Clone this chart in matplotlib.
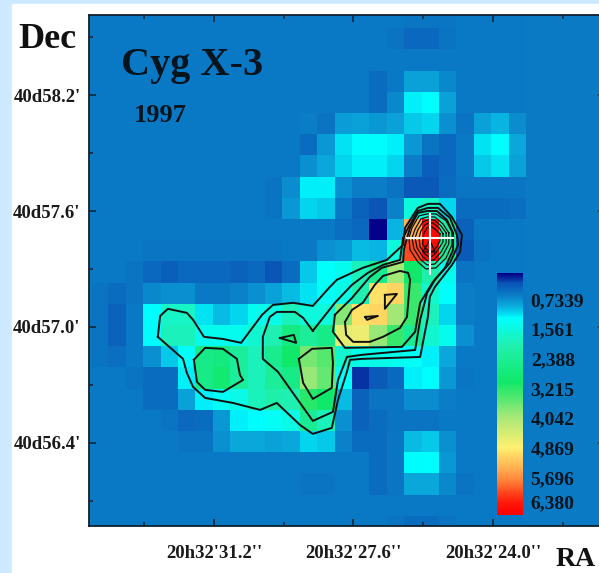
"""Cyg X-3 1997 intensity map with contours."""

from __future__ import annotations

import matplotlib

matplotlib.use("Agg")

import matplotlib.pyplot as plt
import numpy as np
from matplotlib.colors import LinearSegmentedColormap, Normalize
from matplotlib.patches import Rectangle

plt.rcParams["font.family"] = ["Liberation Serif", "DejaVu Serif"]

FIG_W, FIG_H = 599, 573
AX_LEFT, AX_RIGHT, AX_TOP, AX_BOTTOM = 89, 605, 15, 526

# one row per 21.2 px cell from the top, one column per 17.4 px cell from the left
SKY = [
    [.6, .6, .6, .6, .6, .6, .6, .6, .6, .6, .6, .6, .6, .6, .6, .6, .6, .6, .57, .57, .57, .6, .6, .6, .6],
    [.6, .6, .6, .6, .6, .6, .6, .6, .6, .6, .6, .6, .6, .6, .6, .6, .6, .55, .45, .45, .55, .6, .6, .6, .6],
    [.6, .6, .6, .6, .6, .6, .6, .6, .6, .6, .6, .6, .6, .6, .6, .6, .6, .6, .6, .6, .6, .6, .6, .6, .6],
    [.6, .6, .6, .6, .6, .6, .6, .6, .6, .6, .6, .6, .6, .6, .6, .6, .5, .6, .85, .85, .7, .58, .6, .6, .6],
    [.6, .6, .6, .6, .6, .6, .6, .6, .6, .6, .6, .6, .6, .6, .6, .6, .48, .7, 1.2, 1.25, .85, .58, .6, .6, .6],
    [.6, .6, .6, .6, .6, .6, .6, .6, .6, .6, .6, .6, .62, .55, .82, .85, .8, .85, 1.05, 1.1, .75, .55, .85, .95, .72],
    [.6, .6, .6, .6, .6, .6, .6, .6, .6, .6, .6, .6, .5, .8, 1.15, 1.25, 1.25, 1.2, .8, .55, .47, .58, 1.15, 1.25, .9],
    [.6, .6, .6, .6, .6, .6, .6, .6, .6, .6, .6, .6, .75, .9, 1.1, 1.2, 1.2, 1.1, .62, .38, .45, .58, 1.05, 1.15, .85],
    [.6, .6, .6, .6, .6, .6, .6, .6, .6, .6, .55, .72, 1.2, 1.2, .75, .62, .62, .55, .32, .32, .5, .57, .57, .57, .57],
    [.6, .6, .6, .6, .6, .6, .6, .6, .6, .6, .55, .8, 1.1, 1.05, .6, .4, .3, .65, 1.6, 1.8, 1.1, .5, .48, .48, .52],
    [.6, .6, .6, .6, .6, .6, .6, .6, .6, .6, .6, .6, .6, .6, .52, .45, 0., .95, 5.4, 6.6, 2.2, .4, .6, .6, .6],
    [.6, .6, .6, .57, .57, .57, .57, .57, .57, .57, .57, .6, .6, .75, .8, 1., .95, 1.6, 6.1, 6.6, 2.4, .35, .55, .6, .6],
    [.6, .6, .55, .45, .38, .45, .45, .45, .42, .45, .3, .5, 1.05, 1.3, 1.4, 1.9, 2.5, 4., 3., 2.1, 1.4, .55, .6, .6, .6],
    [.55, .5, .55, .7, .75, .75, .6, .6, .65, .75, .85, 1., 1.15, 1.35, 1.5, 2., 5., 5.1, 3.3, 1.7, 1.3, .62, .6, .6, .6],
    [.55, .42, .6, 1.25, 1.8, 1.8, 1.15, 1., 1.1, 1.4, 1.5, 1.9, 1.6, 1.6, 3.8, 5., 5.1, 4., 3.3, 1.9, 1.1, .62, .6, .6, .6],
    [.55, .42, .6, 1.25, 1.9, 1.9, 1.4, 1.4, 1.4, 1.7, 2., 2.7, 2.3, 2.6, 4.6, 4.7, 3.9, 3.3, 2.4, 1.7, 1.4, .75, .6, .6, .6],
    [.55, .52, .6, .75, 1.05, 1.3, 2.6, 2.7, 2.3, 1.9, 2.5, 3., 3.7, 3.5, 1.7, 1.5, 1.45, 1.4, 1.35, 1.2, .9, .6, .6, .6, .6],
    [.6, .6, .55, .5, .5, 1.2, 2.6, 2.9, 2.3, 1.9, 2.3, 2.6, 3.9, 3.6, 1.3, .18, .35, .45, 1.2, 1.25, .8, .57, .6, .6, .6],
    [.6, .6, .6, .5, .5, .85, 1.2, 1.35, 1.5, 1.9, 2.1, 2., 3.2, 3., 1., .42, .55, .55, .72, .72, .62, .6, .6, .6, .6],
    [.6, .6, .6, .6, .55, .45, .5, .8, 1.2, 1.25, 1.35, 1.5, 2.4, 1.9, .75, .4, .5, .55, .55, .55, .6, .6, .6, .6, .6],
    [.6, .6, .6, .6, .6, .55, .55, .75, .9, .9, .85, .9, 1.1, 1.05, .65, .5, .5, .57, 1., 1.05, .75, .6, .6, .6, .6],
    [.6, .6, .6, .6, .6, .6, .6, .6, .6, .6, .6, .6, .6, .6, .6, .6, .5, .57, 1.25, 1.25, .8, .58, .6, .6, .6],
    [.6, .6, .6, .6, .6, .6, .6, .6, .6, .6, .6, .6, .55, .55, .6, .6, .5, .57, .9, .9, .7, .55, .6, .6, .6],
    [.6, .6, .6, .6, .6, .6, .6, .6, .6, .6, .6, .6, .6, .6, .6, .6, .6, .6, .6, .6, .6, .6, .6, .6, .6],
    [.6, .6, .6, .6, .6, .6, .6, .6, .6, .6, .6, .6, .6, .6, .6, .6, .6, .55, .48, .48, .55, .6, .6, .6, .6],
]
BACKGROUND_VALUE = 0.6

# contour lines, as (RA seconds, Dec arcmin)
CONTOUR_OUTER = [
    (32.65, 56.949), (32.59, 57.057), (32.39, 57.094), (31.90, 57.073), (31.74, 57.037),
    (31.46, 56.949), (30.97, 56.938), (30.50, 56.918), (29.96, 57.063), (29.68, 57.114),
    (29.16, 57.125), (28.65, 57.109), (28.21, 57.207), (28.03, 57.244), (27.36, 57.306),
    (26.74, 57.347), (26.32, 57.425), (26.27, 57.513), (25.94, 57.616), (25.68, 57.637),
    (25.37, 57.637), (25.06, 57.569), (24.80, 57.476), (24.85, 57.388), (25.06, 57.321),
    (25.50, 57.207), (25.63, 57.156), (25.68, 57.052), (25.88, 56.845), (27.38, 56.835),
    (27.69, 56.830), (27.77, 56.768), (28.00, 56.623), (28.16, 56.478), (28.65, 56.447),
    (28.98, 56.493), (29.58, 56.607), (30.01, 56.571), (30.71, 56.607), (31.43, 56.633),
    (31.74, 56.690), (31.90, 56.762), (32.00, 56.835), (32.65, 56.949),
]
CONTOUR_SECOND = [
    (28.65, 56.980), (28.90, 57.047), (29.11, 57.078), (29.58, 57.078), (29.76, 57.052),
    (29.94, 56.949), (29.94, 56.835), (29.55, 56.768), (28.98, 56.607), (28.65, 56.514),
    (28.13, 56.561), (28.00, 56.726), (27.77, 56.845), (27.38, 56.856), (26.01, 56.881),
    (25.88, 57.037), (25.70, 57.176), (25.50, 57.244), (25.11, 57.332), (24.90, 57.425),
    (24.93, 57.476), (25.11, 57.564), (25.42, 57.616), (25.68, 57.616), (25.94, 57.600),
    (26.19, 57.513), (26.32, 57.461), (26.40, 57.347), (26.84, 57.321), (27.23, 57.280),
    (27.64, 57.218), (28.08, 57.125), (28.47, 57.026), (28.65, 56.980),
]
CONTOUR_THIRD = [
    (28.08, 57.063), (28.13, 56.975), (27.82, 56.892), (26.35, 56.897), (26.01, 56.975),
    (25.88, 57.125), (25.55, 57.233), (25.24, 57.306), (25.03, 57.399), (25.03, 57.487),
    (25.19, 57.554), (25.45, 57.600), (25.70, 57.600), (25.94, 57.590), (26.14, 57.513),
    (26.22, 57.461), (26.30, 57.399), (26.32, 57.337), (26.87, 57.306), (27.18, 57.259),
    (27.64, 57.150), (28.08, 57.063),
]
CONTOUR_LOBE = [
    (27.82, 57.026), (27.79, 56.959), (27.61, 56.923), (27.18, 56.923), (26.84, 56.949),
    (26.40, 56.995), (26.22, 57.052), (26.14, 57.244), (26.19, 57.280), (26.40, 57.290),
    (26.84, 57.264), (27.05, 57.218), (27.36, 57.125), (27.64, 57.088), (27.82, 57.026),
]
CONTOUR_LOBE_PEAK_A = [(26.79, 57.166), (26.48, 57.171), (26.79, 57.094), (26.79, 57.166)]
CONTOUR_LOBE_PEAK_B = [(27.30, 57.052), (26.97, 57.057), (27.25, 57.037), (27.30, 57.052)]
CONTOUR_MIDDLE_PEAK = [(29.50, 56.943), (29.14, 56.959), (29.08, 56.918), (29.50, 56.943)]
CONTOUR_MIDDLE_BLOB = [
    (29.01, 56.835), (28.67, 56.887), (28.16, 56.892), (28.13, 56.814), (28.16, 56.685),
    (28.65, 56.628), (28.90, 56.711), (29.01, 56.835),
]
CONTOUR_LEFT_BLOB = [
    (31.72, 56.830), (31.43, 56.892), (30.97, 56.887), (30.61, 56.835), (30.53, 56.752),
    (30.45, 56.726), (30.97, 56.664), (31.43, 56.675), (31.64, 56.716), (31.72, 56.830),
]
CONTOUR_RING_1 = [
    (25.06, 57.492), (25.21, 57.549), (25.47, 57.585), (25.70, 57.585), (25.91, 57.575),
    (26.09, 57.513), (26.17, 57.461), (26.14, 57.399), (25.94, 57.337), (25.73, 57.300),
    (25.47, 57.306), (25.21, 57.357), (25.06, 57.425), (25.06, 57.492),
]
CONTOUR_RING_2 = [
    (25.14, 57.487), (25.29, 57.533), (25.50, 57.569), (25.70, 57.569), (25.86, 57.559),
    (26.01, 57.507), (26.09, 57.461), (26.04, 57.404), (25.86, 57.347), (25.70, 57.321),
    (25.50, 57.326), (25.29, 57.373), (25.14, 57.430), (25.14, 57.487),
]
CONTOUR_RING_3 = [
    (25.21, 57.487), (25.34, 57.523), (25.52, 57.554), (25.68, 57.554), (25.81, 57.544),
    (25.94, 57.502), (26.01, 57.461), (25.96, 57.409), (25.81, 57.362), (25.68, 57.342),
    (25.52, 57.347), (25.34, 57.388), (25.21, 57.435), (25.21, 57.487),
]
CONTOUR_RING_4 = [
    (25.29, 57.482), (25.39, 57.513), (25.55, 57.538), (25.65, 57.538), (25.76, 57.528),
    (25.86, 57.497), (25.91, 57.461), (25.88, 57.414), (25.76, 57.378), (25.65, 57.362),
    (25.55, 57.368), (25.42, 57.399), (25.29, 57.440), (25.29, 57.482),
]
CONTOUR_RING_5 = [
    (25.37, 57.482), (25.47, 57.502), (25.58, 57.518), (25.65, 57.518), (25.70, 57.513),
    (25.78, 57.487), (25.81, 57.461), (25.81, 57.425), (25.70, 57.399), (25.63, 57.388),
    (25.55, 57.393), (25.45, 57.414), (25.37, 57.445), (25.37, 57.482),
]
CONTOUR_CORE = [(25.63, 57.450), (25.81, 57.388), (25.50, 57.388), (25.63, 57.450)]
CONTOURS = [
    CONTOUR_OUTER, CONTOUR_SECOND, CONTOUR_THIRD, CONTOUR_LOBE, CONTOUR_LOBE_PEAK_A,
    CONTOUR_LOBE_PEAK_B, CONTOUR_MIDDLE_PEAK, CONTOUR_MIDDLE_BLOB, CONTOUR_LEFT_BLOB,
]
PEAK_RINGS = [
    CONTOUR_RING_1, CONTOUR_RING_2, CONTOUR_RING_3, CONTOUR_RING_4, CONTOUR_RING_5,
    CONTOUR_CORE,
]

RA_MAJOR = [31.2, 27.6, 24.0]
RA_MINOR = [33.0, 29.4, 25.8, 22.2]
RA_LABELS = ["20h32'31.2''", "20h32'27.6''", "20h32'24.0''"]
DEC_MAJOR = [58.2, 57.6, 57.0, 56.4]
DEC_MINOR = [58.5, 57.9, 57.3, 56.7, 56.1]
DEC_LABELS = ["40d58.2'", "40d57.6'", "40d57.0'", "40d56.4'"]

BAR_TICKS = [0.7339, 1.561, 2.388, 3.215, 4.042, 4.869, 5.696, 6.380]
BAR_LABELS = ["0,7339", "1,561", "2,388", "3,215", "4,042", "4,869", "5,696", "6,380"]

CMAP_VALUES = [0.0, 0.25, 0.6, 0.9, 1.25, 2.0, 3.05, 4.0, 4.87, 5.7, 6.4, 6.74]
CMAP_COLORS = [
    "#000088", "#0a50b4", "#0a7cc6", "#0aa8dc", "#00ffff", "#20f0b0",
    "#10e868", "#a5e878", "#fff070", "#ff9040", "#ff1808", "#ff0000",
]

CROSS_RA, CROSS_DEC = 25.63, 57.46


def ra_at(px: float) -> float:
    return 31.2 - (px - 214) / 38.75


def dec_at(py: float) -> float:
    return 57.6 - (py - 211) / 193.3


def figure_box(left: float, right: float, top: float, bottom: float) -> list[float]:
    return [left / FIG_W, 1 - bottom / FIG_H, (right - left) / FIG_W, (bottom - top) / FIG_H]


sky = np.array(SKY)
n_rows, n_cols = sky.shape
vmax = CMAP_VALUES[-1]
cmap = LinearSegmentedColormap.from_list(
    "map", [(v / vmax, c) for v, c in zip(CMAP_VALUES, CMAP_COLORS)]
)
norm = Normalize(0, vmax)

fig = plt.figure(figsize=(FIG_W / 100, FIG_H / 100), dpi=100, facecolor="#cde9ff")
fig.add_artist(
    Rectangle((12 / FIG_W, 0), 1, 1 - 4 / FIG_H, transform=fig.transFigure, color="white", zorder=-1)
)

ax = fig.add_axes(figure_box(AX_LEFT, AX_RIGHT, AX_TOP, AX_BOTTOM))
ax.set_facecolor(cmap(norm(BACKGROUND_VALUE)))

x_left, y_top = 90.8, 7.0
cell_w, cell_h = 17.4, 21.2
extent = (
    ra_at(x_left),
    ra_at(x_left + n_cols * cell_w),
    dec_at(y_top + n_rows * cell_h),
    dec_at(y_top),
)
im = ax.imshow(sky, cmap=cmap, norm=norm, extent=extent, origin="upper", aspect="auto", interpolation="nearest")

for line in CONTOURS:
    ras, decs = zip(*line)
    ax.plot(ras, decs, color="#101010", linewidth=1.4, solid_joinstyle="round")
for line in PEAK_RINGS:
    ras, decs = zip(*line)
    ax.plot(ras, decs, color="#101010", linewidth=0.9, solid_joinstyle="round")

ax.hlines(CROSS_DEC, CROSS_RA + 0.62, CROSS_RA - 0.62, color="white", linewidth=1.5, zorder=3)
ax.vlines(CROSS_RA, CROSS_DEC - 0.19, CROSS_DEC + 0.13, color="white", linewidth=1.5, zorder=3)

ax.set_xlim(ra_at(AX_LEFT), ra_at(AX_RIGHT))
ax.set_ylim(dec_at(AX_BOTTOM), dec_at(AX_TOP))
ax.set_xticks(RA_MAJOR, RA_LABELS, fontsize=13.5, fontweight="bold", color="#1a1a1a")
ax.set_xticks(RA_MINOR, minor=True)
ax.set_yticks(DEC_MAJOR, DEC_LABELS, fontsize=13.5, fontweight="bold", color="#1a1a1a")
ax.set_yticks(DEC_MINOR, minor=True)
ax.tick_params(which="major", direction="in", top=True, right=True, length=5, width=1.1, color="#10202c")
ax.tick_params(which="minor", direction="in", top=True, right=True, length=3, width=1.1, color="#10202c")
ax.tick_params(axis="x", which="major", pad=14)
ax.tick_params(axis="y", which="major", pad=6)
for spine in ax.spines.values():
    spine.set_linewidth(1.3)
    spine.set_color("#10202c")

ax.text(ra_at(121), dec_at(66), "Cyg X-3", fontsize=29, fontweight="bold", color="#06141e", va="center")
ax.text(ra_at(134), dec_at(116), "1997", fontsize=19, fontweight="bold", color="#06141e", va="center")
fig.text(18 / FIG_W, 1 - 39 / FIG_H, "Dec", fontsize=26, fontweight="bold", color="#111111", va="center")
fig.text(556 / FIG_W, 1 - 559 / FIG_H, "RA", fontsize=20, fontweight="bold", color="#111111", va="center")

cax = fig.add_axes(figure_box(497, 523, 273, 515))
bar = fig.colorbar(im, cax=cax)
bar.outline.set_visible(False)
bar.set_ticks(BAR_TICKS, labels=BAR_LABELS)
cax.invert_yaxis()
cax.tick_params(length=0, pad=5.5, labelsize=14, labelcolor="#06141e")
for label in cax.get_yticklabels():
    label.set_fontweight("bold")

fig.savefig("out.png", dpi=100, facecolor=fig.get_facecolor())
